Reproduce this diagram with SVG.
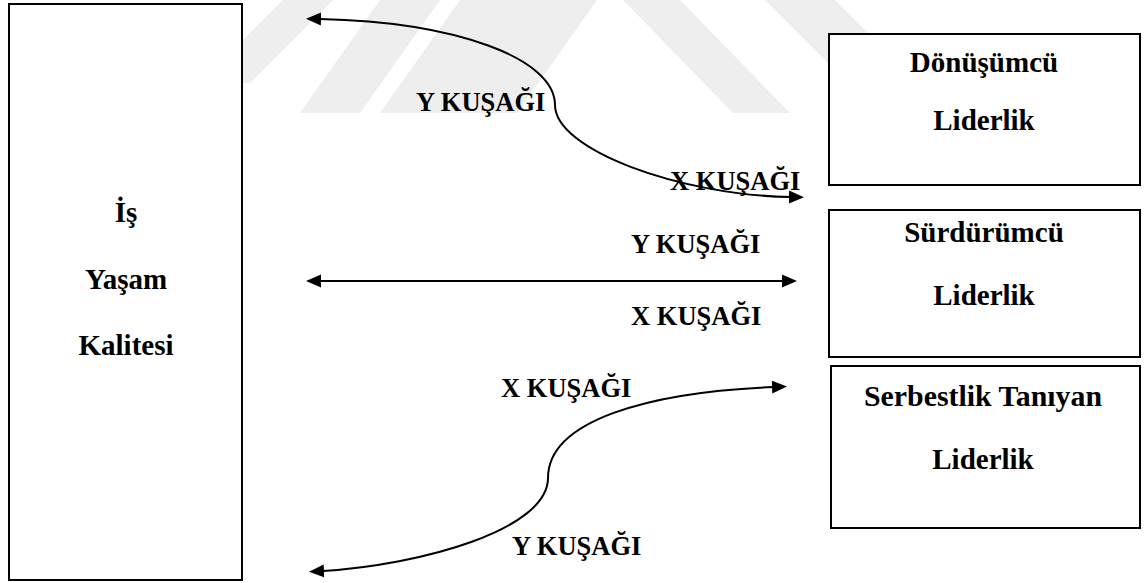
<svg xmlns="http://www.w3.org/2000/svg" width="1144" height="583" viewBox="0 0 1144 583">
  <style>
    .box { fill: #ffffff; stroke: #000000; stroke-width: 2; }
    .node-text { font-family: "Liberation Serif", "Times New Roman", serif; font-weight: bold; font-size: 29px; fill: #000000; text-anchor: middle; }
    .label { font-family: "Liberation Serif", "Times New Roman", serif; font-weight: bold; font-size: 26.5px; fill: #000000; }
    .conn { fill: none; stroke: #000000; stroke-width: 2; }
    .mark { fill: #eeeeee; }
  </style>
  <defs>
    <marker id="arrow" markerUnits="userSpaceOnUse" markerWidth="16" markerHeight="14" viewBox="0 0 16 14" refX="1" refY="7" orient="auto-start-reverse">
      <path d="M0,0.5 L15,7 L0,13.5 z" fill="#000000"/>
    </marker>
  </defs>

  <rect width="1144" height="583" fill="#ffffff"/>

  <!-- faint background emblem -->
  <g id="emblem">
    <polygon class="mark" points="283,0 333,0 250,83 200,83"/>
    <polygon class="mark" points="380,0 440,0 360,113 300,113"/>
    <polygon class="mark" points="460,0 597,0 517,113 380,113"/>
    <polygon class="mark" points="623,0 680,0 790,113 733,113"/>
    <polygon class="mark" points="765,0 835,0 948,113 878,113"/>
  </g>

  <g id="is-yasam-kalitesi">
    <rect class="box" x="9" y="4" width="233" height="576"/>
    <text class="node-text" x="126" y="222">İş</text>
    <text class="node-text" x="126" y="289">Yaşam</text>
    <text class="node-text" x="126" y="355">Kalitesi</text>
  </g>

  <g id="donusumcu-liderlik">
    <rect class="box" x="829" y="34" width="311" height="151"/>
    <text class="node-text" x="984" y="72">Dönüşümcü</text>
    <text class="node-text" x="984" y="130">Liderlik</text>
  </g>

  <g id="surdurumcu-liderlik">
    <rect class="box" x="829" y="210" width="311" height="147"/>
    <text class="node-text" x="984" y="242">Sürdürümcü</text>
    <text class="node-text" x="984" y="305">Liderlik</text>
  </g>

  <g id="serbestlik-taniyan-liderlik">
    <rect class="box" x="831" y="366" width="309" height="162"/>
    <text class="node-text" x="983" y="406" textLength="238" lengthAdjust="spacingAndGlyphs">Serbestlik Tanıyan</text>
    <text class="node-text" x="983" y="469">Liderlik</text>
  </g>

  <g id="connectors">
    <path class="conn" d="M320,19 C455,22 555,58 555,105 C555,150 680,195 790,197" marker-start="url(#arrow)" marker-end="url(#arrow)"/>
    <path class="conn" d="M320,281 L783,281" marker-start="url(#arrow)" marker-end="url(#arrow)"/>
    <path class="conn" d="M773,387 C650,392 548,420 548,478 C548,530 420,565 323,571" marker-start="url(#arrow)" marker-end="url(#arrow)"/>

    <text class="label" x="416" y="111">Y KUŞAĞI</text>
    <text class="label" x="670" y="190">X KUŞAĞI</text>
    <text class="label" x="631" y="253">Y KUŞAĞI</text>
    <text class="label" x="631" y="325">X KUŞAĞI</text>
    <text class="label" x="501" y="397">X KUŞAĞI</text>
    <text class="label" x="512" y="555">Y KUŞAĞI</text>
  </g>
</svg>
